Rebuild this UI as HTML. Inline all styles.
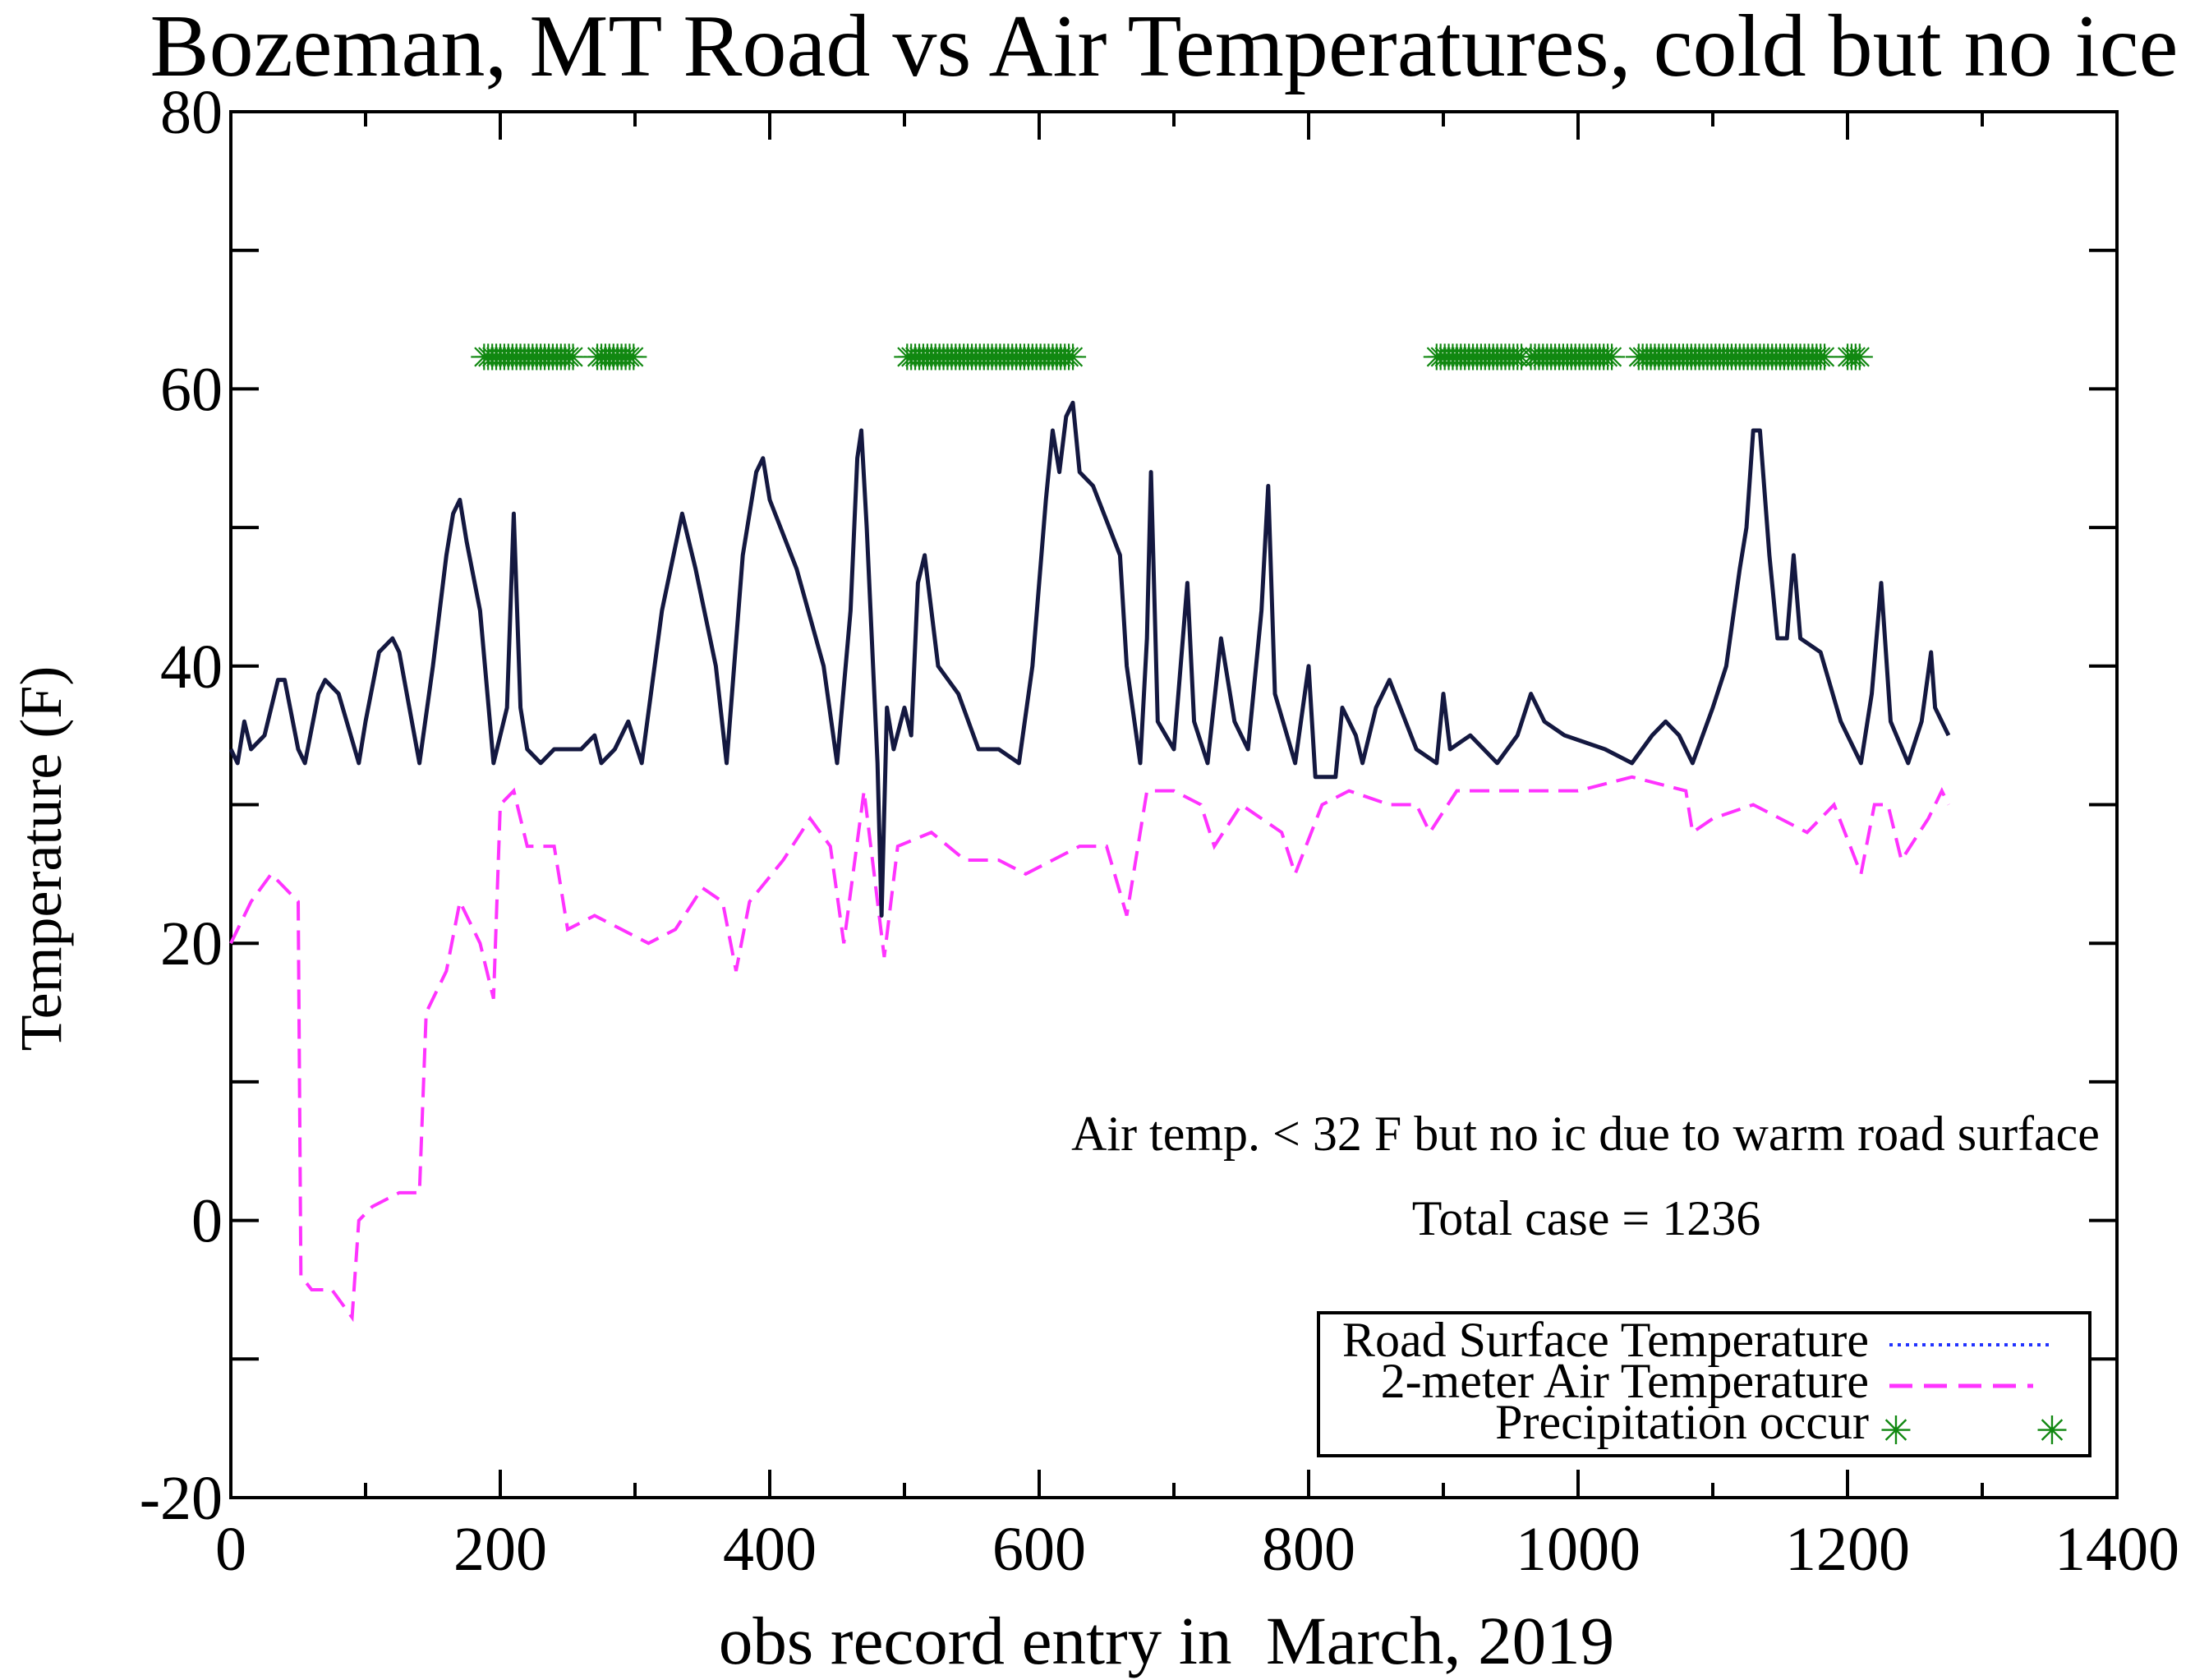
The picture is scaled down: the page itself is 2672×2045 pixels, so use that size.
<!DOCTYPE html>
<html><head><meta charset="utf-8"><style>
html,body{margin:0;padding:0;background:#fff;}
svg{display:block;font-family:"Liberation Serif",serif;}
</style></head><body>
<svg id="chart" width="2672" height="2045" viewBox="0 0 2672 2045" xmlns="http://www.w3.org/2000/svg">
<rect width="2672" height="2045" fill="#fff"/>
<text x="1417" y="92" font-size="108" text-anchor="middle">Bozeman, MT Road vs Air Temperatures, cold but no ice</text>
<g id="axes"></g>
<g id="series"></g>
<text x="1930" y="1400" font-size="60" text-anchor="middle">Air temp. &lt; 32 F but no ic due to warm road surface</text>
<text x="1931" y="1503" font-size="60" text-anchor="middle">Total case = 1236</text>
<g>
<rect x="1605" y="1598" width="939" height="174" fill="#fff" stroke="#000" stroke-width="4"/>
<text x="2275" y="1651" font-size="60" text-anchor="end">Road Surface Temperature</text>
<line x1="2300" y1="1637" x2="2500" y2="1637" stroke="#2233ff" stroke-width="4" stroke-dasharray="4,6"/>
<text x="2275" y="1701" font-size="60" text-anchor="end">2-meter Air Temperature</text>
<line x1="2300" y1="1687" x2="2475" y2="1687" stroke="#ff33ff" stroke-width="5" stroke-dasharray="28,14"/>
<text x="2275" y="1751" font-size="60" text-anchor="end">Precipitation occur</text>
<text x="2308" y="1758" font-size="48" fill="#118811" text-anchor="middle">✳</text>
<text x="2498" y="1758" font-size="48" fill="#118811" text-anchor="middle">✳</text>
</g>
</svg>
<script>
const xTicks=[0,200,400,600,800,1000,1200,1400];
const yTicks=[-20,0,20,40,60,80];
const roadX=[0,5,10,15,25,35,40,50,55,65,70,80,95,100,110,120,125,140,150,160,165,170,175,185,195,200,205,210,215,220,230,240,260,270,275,285,295,305,320,335,345,360,368,380,390,395,400,420,440,450,460,465,468,472,480,483,487,492,500,505,510,515,525,540,555,570,585,595,605,610,615,620,625,630,640,660,665,675,680,683,688,700,710,715,725,735,745,755,765,770,775,790,800,805,820,825,835,840,850,860,880,895,900,905,920,940,955,965,975,990,1020,1040,1055,1065,1075,1085,1100,1110,1120,1125,1130,1135,1142,1148,1155,1160,1165,1180,1195,1210,1218,1225,1232,1245,1255,1262,1265,1275];
const roadT=[34,33,36,34,35,39,39,34,33,38,39,38,33,36,41,42,41,33,40,48,51,52,49,44,33,35,37,51,37,34,33,34,34,35,33,34,36,33,44,51,47,40,33,48,54,55,52,47,40,33,44,55,57,50,33,22,37,34,37,35,46,48,40,38,34,34,33,40,52,57,54,58,59,54,53,48,40,33,42,54,36,34,46,36,33,42,36,34,44,53,38,33,40,32,32,37,35,33,37,39,34,33,38,34,35,33,35,38,36,35,34,33,35,36,35,33,37,40,47,50,57,57,48,42,42,48,42,41,36,33,38,46,36,33,36,41,37,35];
const airX=[0,15,30,50,52,60,75,90,95,105,125,140,145,160,170,185,195,200,210,220,240,250,270,290,310,330,350,365,375,385,410,430,445,455,470,485,495,520,545,570,590,610,630,650,665,680,700,720,730,750,780,790,810,830,860,880,890,910,950,1000,1040,1080,1085,1100,1130,1150,1170,1190,1210,1220,1230,1240,1260,1270,1275];
const airT=[20,23,25,23,-4,-5,-5,-7,0,1,2,2,15,18,23,20,16,30,31,27,27,21,22,21,20,21,24,23,18,23,26,29,27,20,31,19,27,28,26,26,25,26,27,27,22,31,31,30,27,30,28,25,30,31,30,30,28,31,31,31,32,31,28,29,30,29,28,30,25,30,30,26,29,31,30];
const precipStart=[188,272,502,895,965,1045,1200];
const precipEnd=[255,300,625,958,1025,1185,1210];
const precipLevel=62.3;

const L=281,R=2577,T=136,B=1823;
const sx=v=>L+(v-0)/1400*(R-L);
const sy=v=>B-(v+20)/100*(B-T);
const NS="http://www.w3.org/2000/svg";
const axes=document.getElementById('axes'),ser=document.getElementById('series');
function mk(tag,attrs,parent){const e=document.createElementNS(NS,tag);for(const k in attrs)e.setAttribute(k,attrs[k]);parent.appendChild(e);return e;}

const frame=mk('rect',{x:L,y:T,width:R-L,height:B-T,fill:'none',stroke:'#000','stroke-width':4},axes);


for(let v=0;v<=1400;v+=100){
  const x=sx(v);const len=(v%200===0)?34:18;
  mk('line',{x1:x,y1:B,x2:x,y2:B-len,stroke:'#000','stroke-width':4},axes);
  mk('line',{x1:x,y1:T,x2:x,y2:T+len,stroke:'#000','stroke-width':4},axes);
}
for(let v=-20;v<=80;v+=10){
  const y=sy(v);const len=34;
  mk('line',{x1:L,y1:y,x2:L+len,y2:y,stroke:'#000','stroke-width':4},axes);
  mk('line',{x1:R,y1:y,x2:R-len,y2:y,stroke:'#000','stroke-width':4},axes);
}
xTicks.forEach(v=>{
  const t=mk('text',{x:sx(v),y:B+88,'font-size':76,'text-anchor':'middle'},axes);t.textContent=v;
  
  
});
yTicks.forEach(v=>{
  const t=mk('text',{x:L-10,y:sy(v)+26,'font-size':76,'text-anchor':'end'},axes);t.textContent=v;
  
  
});
const xt=mk('text',{x:1420,y:2025,'font-size':83,'text-anchor':'middle'},axes);
xt.textContent='obs record entry in\u00a0\u00a0March, 2019';


const yt=mk('text',{x:0,y:0,'font-size':72,'text-anchor':'middle',transform:'translate(74,1045) rotate(-90)'},axes);
yt.textContent='Temperature (F)';



for(let i=0;i<precipStart.length;i++){
  for(let v=precipStart[i];v<=precipEnd[i];v+=3){
    const t=mk('text',{x:sx(v),y:sy(precipLevel)+16,'font-size':44,fill:'#118811','text-anchor':'middle'},ser);
    t.textContent='✳';
    
    
  }
}
const air=mk('polyline',{points:airX.map((x,i)=>sx(x)+','+sy(airT[i])).join(' '),fill:'none',stroke:'#ff33ff','stroke-width':4,'stroke-dasharray':'24,12'},ser);


const road=mk('polyline',{points:roadX.map((x,i)=>sx(x)+','+sy(roadT[i])).join(' '),fill:'none',stroke:'#141840','stroke-width':5,'stroke-linejoin':'round'},ser);


</script>
</body></html>
